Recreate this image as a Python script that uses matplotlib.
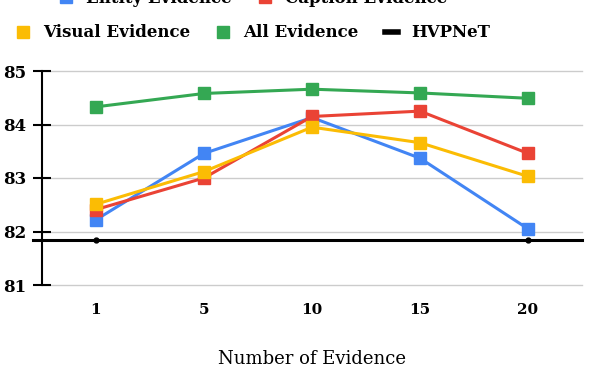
import matplotlib.pyplot as plt
from matplotlib.lines import Line2D

evidence = ['1', '5', '10', '15', '20']
entity = [82.22, 83.46, 84.13, 83.37, 82.05]
caption = [82.41, 83.00, 84.15, 84.25, 83.46]
visual = [82.51, 83.12, 83.95, 83.66, 83.03]
all_ev = [84.33, 84.58, 84.66, 84.59, 84.49]
hvpnet = 81.85

colors = {'Entity Evidence': '#4285F4', 'Caption Evidence': '#EA4335',
          'Visual Evidence': '#FBBC04', 'All Evidence': '#34A853'}

plt.rcParams['font.family'] = 'DejaVu Serif'

fig = plt.figure(figsize=(6.06, 3.66), dpi=100)
ax = fig.add_axes([42/606, 1-285/366, 540/606, 214/366])

x = list(range(len(evidence)))
series = [('Entity Evidence', entity), ('Caption Evidence', caption),
          ('Visual Evidence', visual), ('All Evidence', all_ev)]
for name, vals in series:
    ax.plot(x, vals, color=colors[name], lw=2.2, marker='s', ms=8, zorder=3)

# baseline
ax.axhline(hvpnet, xmin=-0.017, xmax=1, color='black', lw=2.2, clip_on=False, zorder=4)
ax.plot([x[0], x[-1]], [hvpnet, hvpnet], 'o', color='black', ms=3.5, zorder=5)

ax.set_xlim(-0.5, 4.5)
ax.set_ylim(81, 85)
ax.set_yticks([81, 82, 83, 84, 85])
ax.set_xticks(x)
ax.set_xticklabels(evidence, fontweight='bold', fontsize=11)
for lab in ax.get_yticklabels():
    lab.set_fontweight('bold')
    lab.set_fontsize(12)
ax.tick_params(axis='y', direction='inout', length=13, width=1.5, pad=5)
ax.tick_params(axis='x', length=0, pad=13)
ax.grid(axis='y', color='#cccccc', lw=1)
for gl in ax.get_ygridlines():
    gl.set_clip_on(False)
ax.set_axisbelow(True)
for s in ['top', 'right', 'bottom']:
    ax.spines[s].set_visible(False)
ax.spines['left'].set_linewidth(1.5)
ax.set_xlabel('Number of Evidence', fontsize=13, labelpad=24)

def sq(c):
    return Line2D([], [], color=c, marker='s', ls='', ms=8)

row1 = [sq(colors['Entity Evidence']), sq(colors['Caption Evidence'])]
row2 = [sq(colors['Visual Evidence']), sq(colors['All Evidence']),
        Line2D([], [], color='black', lw=4)]
leg1 = fig.legend(row1, ['Entity Evidence', 'Caption Evidence'], ncol=2,
                  loc='center', bbox_to_anchor=(0.418, 1.005), frameon=False,
                  prop={'weight': 'bold', 'size': 12}, handlelength=0.8,
                  columnspacing=1.6, handletextpad=0.8)
leg2 = fig.legend(row2, ['Visual Evidence', 'All Evidence', 'HVPNeT'], ncol=3,
                  loc='center', bbox_to_anchor=(0.418, 0.91), frameon=False,
                  prop={'weight': 'bold', 'size': 12}, handlelength=0.8,
                  columnspacing=1.6, handletextpad=0.8)

plt.savefig('out.png', dpi=100)
